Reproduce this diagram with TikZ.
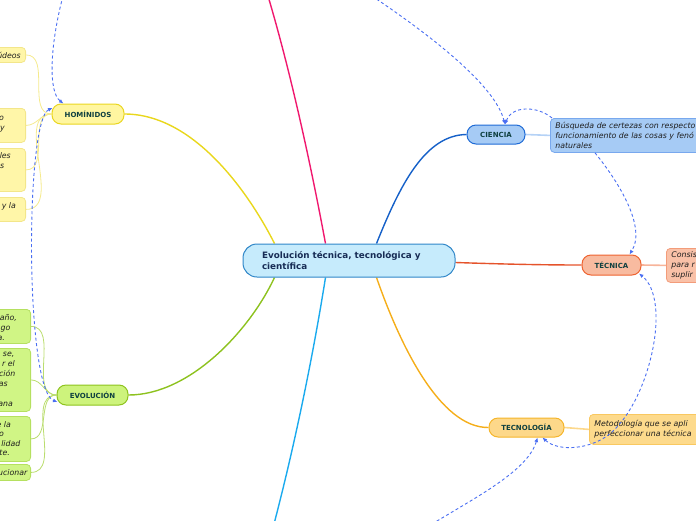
\documentclass[tikz,border=0pt]{standalone}
\usepackage{fontspec}
\setmainfont{DejaVu Sans}
\usetikzlibrary{arrows.meta,calc,backgrounds}
\definecolor{nodetxt}{HTML}{0F4040}
\definecolor{centxt}{HTML}{172C55}
\definecolor{dtxt}{HTML}{1E1E1E}
\definecolor{cenfill}{HTML}{C6EBFC}
\definecolor{cendraw}{HTML}{2F86C8}
\definecolor{homfill}{HTML}{FFF6A0}
\definecolor{homdraw}{HTML}{EAD620}
\definecolor{evofill}{HTML}{CDF37C}
\definecolor{evodraw}{HTML}{8EC31E}
\definecolor{ciefill}{HTML}{A6CBF5}
\definecolor{ciedraw}{HTML}{1F6BD6}
\definecolor{tecfill}{HTML}{F8BBA0}
\definecolor{tecdraw}{HTML}{EE6330}
\definecolor{tgfill}{HTML}{FDD88A}
\definecolor{tgdraw}{HTML}{F5B52A}
\definecolor{hleaf}{HTML}{FFF6A8}
\definecolor{hleafd}{HTML}{F3E68A}
\definecolor{eleaf}{HTML}{D0F585}
\definecolor{eleafd}{HTML}{B5E060}
\definecolor{cieleafd}{HTML}{78A8EE}
\definecolor{tecleaf}{HTML}{F9C1A8}
\definecolor{tecleafd}{HTML}{F39C7A}
\definecolor{tgleaf}{HTML}{FDDA8C}
\definecolor{tgleafd}{HTML}{F9C860}
\definecolor{relblue}{HTML}{4A6EF2}
\definecolor{byel}{HTML}{E9D71C}
\definecolor{bgrn}{HTML}{8DC21F}
\definecolor{bpink}{HTML}{F0186E}
\definecolor{blblue}{HTML}{1AAAEE}
\definecolor{bblue}{HTML}{1560C8}
\definecolor{bred}{HTML}{E5532B}
\definecolor{borng}{HTML}{F5AE1A}
\definecolor{lyel}{HTML}{F5EA8C}
\definecolor{lgrn}{HTML}{BADD6E}
\definecolor{lblue}{HTML}{B5D2F6}
\definecolor{lred}{HTML}{F7B49A}
\definecolor{lorng}{HTML}{FCD88C}
\begin{document}
\begin{tikzpicture}[x=1pt,y=-1pt,
  mainbox/.style={rounded corners=9pt, minimum height=20pt, inner sep=0pt, line width=1pt,
    font=\fontsize{7}{8}\selectfont\bfseries, text=nodetxt},
  detail/.style={rounded corners=4pt, line width=0.8pt},
  dtext/.style={font=\fontsize{7.8}{10}\selectfont\itshape, text=dtxt, align=left},
  frag/.style={font=\fontsize{7.8}{10}\selectfont\itshape, text=dtxt, inner sep=0pt},
  branch/.style={line width=1.4pt},
  leafline/.style={line width=0.8pt},
  rel/.style={draw=relblue, line width=0.9pt, dash pattern=on 3pt off 2.5pt},
  tip/.tip={Latex[length=4.5pt,width=4pt]}]
\useasboundingbox (0,0) rectangle (696,520);
\clip (0,0) rectangle (696,520);

% central and main nodes
\node[rounded corners=14pt, fill=cenfill, draw=cendraw, line width=1pt, minimum height=33pt,
  text width=174pt, inner xsep=19pt, inner ysep=0pt, align=left,
  font=\fontsize{8.8}{11}\selectfont\bfseries, text=centxt] (cen) at (349,260.5)
  {Evolución técnica, tecnológica y\\científica};
\node[mainbox, fill=homfill, draw=homdraw, minimum width=72pt] (hom) at (88,114) {HOMÍNIDOS};
\node[mainbox, fill=evofill, draw=evodraw, minimum width=71pt] (evo) at (92.5,395) {EVOLUCIÓN};
\node[mainbox, fill=ciefill, draw=ciedraw, minimum width=58pt, minimum height=19pt] (cie) at (496,134.5) {CIENCIA};
\node[mainbox, fill=tecfill, draw=tecdraw, minimum width=59pt] (tca) at (611.5,265) {TÉCNICA};
\node[mainbox, fill=tgfill, draw=tgdraw, minimum width=75pt, minimum height=19pt] (tgl) at (526.5,427.5) {TECNOLOGÍA};

% right detail boxes
\node[detail, fill=ciefill, draw=cieleafd, anchor=north west, minimum height=34pt, text width=240pt,
  inner xsep=5pt, inner ysep=0pt, dtext] (cied) at (550,118)
  {Búsqueda de certezas con respecto\\funcionamiento de las cosas y fenó\\naturales};
\node[detail, fill=tecleaf, draw=tecleafd, anchor=north west, minimum height=34pt, text width=100pt,
  inner xsep=5pt, inner ysep=0pt, dtext] (tcad) at (666,248)
  {Consis\\para r\\suplir .};
\node[detail, fill=tgleaf, draw=tgleafd, anchor=north west, minimum height=30pt, text width=160pt,
  inner xsep=5pt, inner ysep=0pt, dtext] (tgld) at (589,414)
  {Metodología que se apli\\perfeccionar una técnica};

% left yellow boxes
\node[detail, fill=hleaf, draw=hleafd, anchor=north east, minimum width=100pt, minimum height=15pt] (h1) at (26,47) {};
\node[detail, fill=hleaf, draw=hleafd, anchor=north east, minimum width=100pt, minimum height=34pt] (h2) at (26,108) {};
\node[detail, fill=hleaf, draw=hleafd, anchor=north east, minimum width=100pt, minimum height=43pt] (h3) at (26,148) {};
\node[detail, fill=hleaf, draw=hleafd, anchor=north east, minimum width=100pt, minimum height=24pt] (h4) at (26,197) {};
\node[frag, anchor=base east] (h1a) at (21,58) {údeos};
\node[frag, anchor=base east] (h2a) at (4,120) {o};
\node[frag, anchor=base east] (h2b) at (5,130) {y};
\node[frag, anchor=base east] (h3a) at (11,158.5) {les};
\node[frag, anchor=base east] (h3b) at (4.5,168) {s};
\node[frag, anchor=base east] (h4a) at (16,208) {y la};

% left green boxes
\node[detail, fill=eleaf, draw=eleafd, anchor=north east, minimum width=100pt, minimum height=34pt] (e1) at (31,309) {};
\node[detail, fill=eleaf, draw=eleafd, anchor=north east, minimum width=100pt, minimum height=63pt] (e2) at (31,348) {};
\node[detail, fill=eleaf, draw=eleafd, anchor=north east, minimum width=100pt, minimum height=45pt] (e3) at (31,416) {};
\node[detail, fill=eleaf, draw=eleafd, anchor=north east, minimum width=100pt, minimum height=16pt] (e4) at (31,464) {};
\node[frag, anchor=base east] (e1a) at (17,320) {año,};
\node[frag, anchor=base east] (e1b) at (10.5,330) {go};
\node[frag, anchor=base east] (e1c) at (5,340) {a.};
\node[frag, anchor=base east] (e2a) at (14.5,356) {se,};
\node[frag, anchor=base east] (e2b) at (15,366) {r el};
\node[frag, anchor=base east] (e2c) at (15.5,376) {ción};
\node[frag, anchor=base east] (e2d) at (8,386) {as};
\node[frag, anchor=base east] (e2e) at (13,406) {ana};
\node[frag, anchor=base east] (e3a) at (11,427) {e la};
\node[frag, anchor=base east] (e3b) at (4,436) {o};
\node[frag, anchor=base east] (e3c) at (20.5,446) {lidad};
\node[frag, anchor=base east] (e3d) at (10,455.5) {te.};
\node[frag, anchor=base east] (e4a) at (27.5,475) {ucionar};

% connectors behind the nodes
\begin{scope}[on background layer]
\clip (0,0) rectangle (696,520);
\coordinate (pinkend) at (268,-4);
\coordinate (lbend) at (274,524);
\draw[branch, draw=byel] ($(cen.north west)+(32,0)$) .. controls (250,195) and (195,114) .. (hom.east);
\draw[branch, draw=bgrn] ($(cen.south west)+(32,0)$) .. controls (250,330) and (190,395) .. (evo.east);
\draw[branch, draw=bpink] ($(cen.north west)+(83,0)$) .. controls (310,160) and (290,70) .. (pinkend);
\draw[branch, draw=blblue] ($(cen.south west)+(83,0)$) .. controls (314,350) and (296,440) .. (lbend);
\draw[branch, draw=bblue] ($(cen.north east)+(-79,0)$) .. controls (400,185) and (425,135) .. (cie.west);
\draw[branch, draw=borng] ($(cen.south east)+(-79,0)$) .. controls (400,345) and (440,428) .. (tgl.west);
\draw[branch, draw=bred] ($(cen.east)+(0,2)$) .. controls (500,264) and (540,265) .. (tca.west);
\draw[leafline, draw=lblue, line width=1.6pt] (cie.east) -- (cied.west);
\draw[leafline, draw=lred, line width=1.6pt] (tca.east) -- (tcad.west);
\draw[leafline, draw=lorng, line width=1.6pt] (tgl.east) -- (tgld.west);
\foreach \b in {h1,h2,h3,h4}
  \draw[leafline, draw=lyel] (\b.east) to[out=0,in=180] (hom.west);
\foreach \b in {e1,e2,e3,e4}
  \draw[leafline, draw=lgrn] (\b.east) to[out=0,in=180] (evo.west);
\end{scope}

% dashed relations
\coordinate (topA) at (63,-4);
\coordinate (topB) at (372,-4);
\coordinate (botA) at (432,524);
\draw[rel,-tip] (topA) .. controls (50,45) and (48,92) .. ($(hom.north west)+(12,0)$);
\draw[rel,tip-tip] ($(hom.west)+(1,-6)$) .. controls (25,120) and (25,390) .. ($(evo.west)+(1,7)$);
\draw[rel,-tip] (topB) .. controls (430,35) and (495,85) .. ($(cie.north)+(9,0)$);
\draw[rel,-tip] ($(cied.north west)+(2,0)$) .. controls (538,106) and (512,105) .. ($(cie.north)+(9,0)$);
\draw[rel,-tip] ($(cied.south west)+(45,0)$) .. controls (625,190) and (645,230) .. ($(tca.north)+(18,0)$);
\draw[rel,-tip] (botA) .. controls (480,495) and (528,470) .. ($(tgl.south)+(11,0)$);
\draw[rel,tip-tip] ($(tgl.south)+(16,0)$) .. controls (558,452) and (592,450) .. (612,432)
  .. controls (650,398) and (672,300) .. ($(tca.south)+(27.5,-2)$);
\end{tikzpicture}
\end{document}
